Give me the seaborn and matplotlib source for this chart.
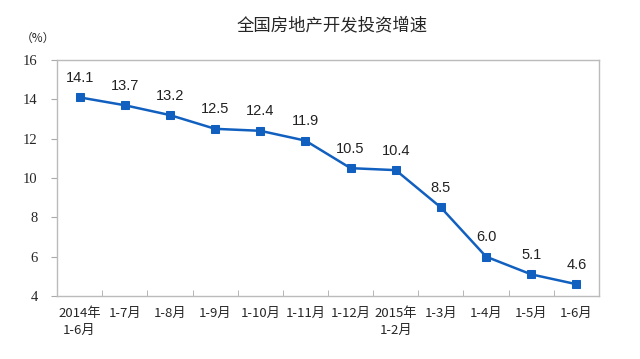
import matplotlib
matplotlib.use('Agg')
import matplotlib.pyplot as plt
import seaborn as sns
import pandas as pd
import numpy as np

# 数据
periods = ['2014年\n1-6月', '1-7月', '1-8月', '1-9月', '1-10月', '1-11月', '1-12月',
           '2015年\n1-2月', '1-3月', '1-4月', '1-5月', '1-6月']
growth = [14.1, 13.7, 13.2, 12.5, 12.4, 11.9, 10.5, 10.4, 8.5, 6.0, 5.1, 4.6]
y_ticks = [4, 6, 8, 10, 12, 14, 16]

df = pd.DataFrame({'pos': np.arange(len(periods)), 'growth': growth})

sns.set_style('white')
plt.rcParams['font.family'] = ['Noto Sans CJK SC', 'DejaVu Sans']

fig = plt.figure(figsize=(6.4, 3.59), dpi=100)
ax = fig.add_axes([57 / 640, 1 - 296 / 359, 542 / 640, 236 / 359])

blue = '#1160c0'
sns.lineplot(data=df, x='pos', y='growth', ax=ax, color=blue, linewidth=1.8,
             marker='s', markersize=5.5, markeredgecolor=blue, markerfacecolor=blue)

for x, v in zip(df['pos'], growth):
    ax.annotate(f'{v:.1f}', (x, v), xytext=(0, 9), textcoords='offset points',
                ha='center', va='bottom', fontsize=10.5, family='Liberation Sans',
                color='#222222')

ax.set_xlim(-0.5, len(periods) - 0.5)
ax.set_ylim(4, 16)
ax.set_yticks(y_ticks)
ax.set_yticklabels([str(t) for t in y_ticks], family='Liberation Serif', fontsize=10.5)

# 类别标签放在中心，刻度线在类别之间
ax.set_xticks(np.arange(len(periods)))
ax.set_xticklabels(periods, fontsize=9.5, linespacing=1.4)
ax.set_xticks(np.arange(len(periods) + 1) - 0.5, minor=True)
ax.tick_params(axis='x', which='major', length=0, pad=8)
ax.tick_params(axis='x', which='minor', direction='in', length=4, color='#aaaaaa', bottom=True)
ax.tick_params(axis='y', which='major', direction='out', length=4, color='#aaaaaa', left=True, pad=10)
ax.set_xlabel('')
ax.set_ylabel('')

for s in ax.spines.values():
    s.set_color('#bbbbbb')
    s.set_linewidth(1.0)

fig.text(332 / 640, 1 - 25 / 359, '全国房地产开发投资增速', ha='center', va='center', fontsize=12.5)
fig.text(38 / 640, 1 - 38 / 359, '（%）', ha='center', va='center', fontsize=8.5)

fig.savefig('out.png', dpi=100, facecolor='white')
